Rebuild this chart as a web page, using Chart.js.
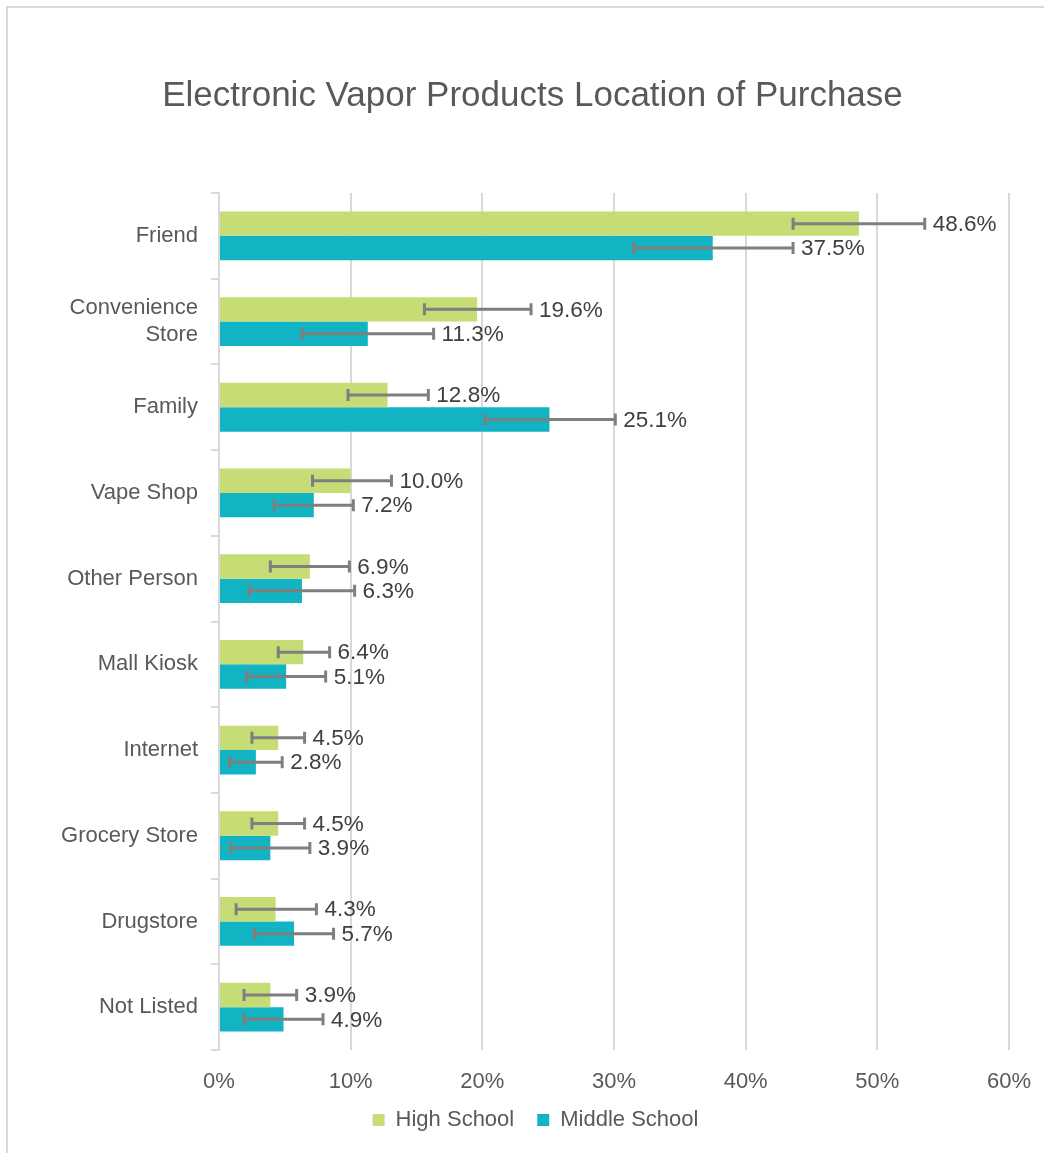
<!DOCTYPE html>
<html>
<head>
<meta charset="utf-8">
<script src="https://cdn.jsdelivr.net/npm/chart.js@4.4.1/dist/chart.umd.min.js"></script>
<style>
  html, body { margin: 0; padding: 0; background: #fff; }
  #frame { position: absolute; left: 6px; top: 6px; width: 1100px; height: 1200px; border: 2px solid #d9d9d9; border-right: none; border-bottom: none; }
  #wrap { position: absolute; left: 0; top: 0; width: 1044px; height: 1153px; }
</style>
</head>
<body>
<div id="frame"></div>
<div id="wrap"><canvas id="myChart"></canvas></div>
<script>
var categories = ['Friend', ['Convenience', 'Store'], 'Family', 'Vape Shop', 'Other Person',
  'Mall Kiosk', 'Internet', 'Grocery Store', 'Drugstore', 'Not Listed'];
var seriesNames = ['High School', 'Middle School'];

var highSchool = [48.6, 19.6, 12.8, 10.0, 6.9, 6.4, 4.5, 4.5, 4.3, 3.9];
var highLow    = [43.6, 15.6,  9.8,  7.1, 3.9, 4.5, 2.5, 2.5, 1.3, 1.9];
var highHigh   = [53.6, 23.7, 15.9, 13.1, 9.9, 8.4, 6.5, 6.5, 7.4, 5.9];

var middleSchool = [37.5, 11.3, 25.1, 7.2, 6.3, 5.1, 2.8, 3.9, 5.7, 4.9];
var middleLow    = [31.5,  6.3, 20.2, 4.2, 2.3, 2.1, 0.8, 0.9, 2.7, 1.9];
var middleHigh   = [43.6, 16.3, 30.1, 10.2, 10.3, 8.1, 4.8, 6.9, 8.7, 7.9];

var xTicks = [0, 10, 20, 30, 40, 50, 60];

var FONT = 'Liberation Sans, Arial, sans-serif';
var TEXT = '#595959';

// error bars + value labels, drawn on top of the bars
var errorBarPlugin = {
  id: 'errorBars',
  afterUpdate(chart) {
    // title and legend are centred on the whole frame, not on the padded box
    chart.titleBlock.left += 28;
    chart.titleBlock.right += 28;
    chart.legend.left += 31;
    chart.legend.right += 31;
    chart.legend.top -= 12;
    chart.legend.bottom -= 12;
  },
  afterDatasetsDraw(chart) {
    var ctx = chart.ctx;
    var xs = chart.scales.x;
    chart.data.datasets.forEach(function (ds, di) {
      var meta = chart.getDatasetMeta(di);
      meta.data.forEach(function (bar, i) {
        var lo = xs.getPixelForValue(ds.errLow[i]);
        var hi = xs.getPixelForValue(ds.errHigh[i]);
        var y = bar.y;
        ctx.save();
        ctx.strokeStyle = '#7f7f7f';
        ctx.lineWidth = 3;
        ctx.beginPath();
        ctx.moveTo(lo, y); ctx.lineTo(hi, y);
        ctx.moveTo(lo, y - 6); ctx.lineTo(lo, y + 6);
        ctx.moveTo(hi, y - 6); ctx.lineTo(hi, y + 6);
        ctx.stroke();
        ctx.fillStyle = '#404040';
        ctx.font = '22.5px ' + FONT;
        ctx.textAlign = 'left';
        ctx.textBaseline = 'middle';
        ctx.fillText(ds.data[i].toFixed(1) + '%', hi + 8, y + 1);
        ctx.restore();
      });
    });
  }
};

new Chart('myChart', {
  type: 'bar',
  data: {
    labels: categories,
    datasets: [{
      label: seriesNames[0],
      data: highSchool,
      errLow: highLow,
      errHigh: highHigh,
      backgroundColor: '#c6dc74',
      categoryPercentage: 0.57,
      barPercentage: 1
    }, {
      label: seriesNames[1],
      data: middleSchool,
      errLow: middleLow,
      errHigh: middleHigh,
      backgroundColor: '#12b3c3',
      categoryPercentage: 0.57,
      barPercentage: 1
    }]
  },
  options: {
    indexAxis: 'y',
    responsive: true,
    maintainAspectRatio: false,
    animation: false,
    layout: { padding: { left: 0, right: 35, top: 0, bottom: 0 } },
    scales: {
      x: {
        min: 0,
        max: 60,
        afterBuildTicks: function (scale) {
          scale.ticks = xTicks.map(function (v) { return { value: v }; });
        },
        afterFit: function (scale) {
          scale.height = 48;
          scale.paddingLeft = 0;
          scale.paddingRight = 0;
        },
        ticks: {
          callback: function (v) { return v + '%'; },
          color: TEXT,
          font: { family: FONT, size: 22 },
          padding: 19
        },
        grid: { color: '#d9d9d9', lineWidth: 2, drawTicks: false },
        border: { display: false }
      },
      y: {
        afterFit: function (scale) { scale.width = 219; },
        ticks: {
          color: TEXT,
          font: { family: FONT, size: 22, lineHeight: 1.2 },
          padding: 13
        },
        grid: { drawOnChartArea: false, drawTicks: true, tickLength: 8, color: '#d9d9d9', lineWidth: 2 },
        border: { display: true, color: '#d9d9d9', width: 2 }
      }
    },
    plugins: {
      title: {
        display: true,
        text: 'Electronic Vapor Products Location of Purchase',
        color: TEXT,
        font: { family: FONT, size: 35, weight: 'normal' },
        padding: { top: 75, bottom: 76 }
      },
      legend: {
        position: 'bottom',
        labels: {
          color: TEXT,
          font: { family: FONT, size: 22 },
          boxWidth: 12,
          boxHeight: 12,
          padding: 23
        }
      },
      tooltip: { enabled: false }
    }
  },
  plugins: [errorBarPlugin]
});
</script>
</body>
</html>
